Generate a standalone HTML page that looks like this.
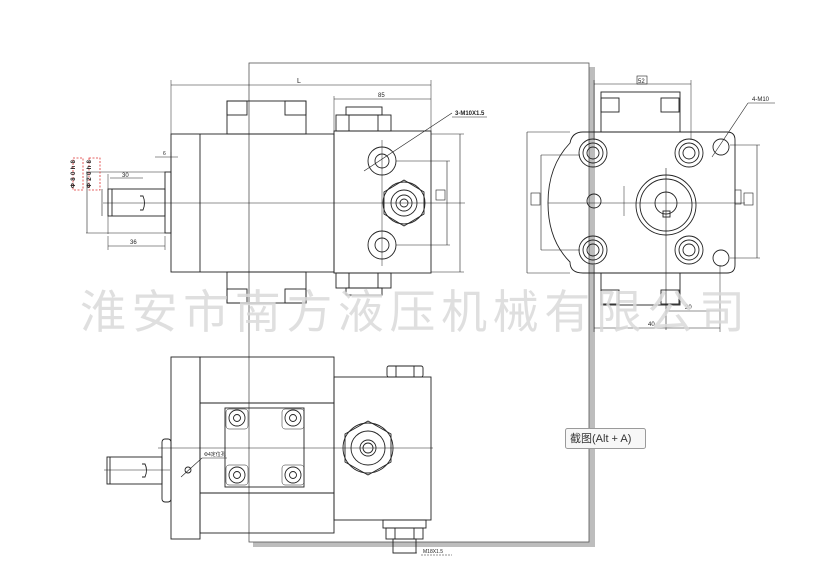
<!DOCTYPE html>
<html><head><meta charset="utf-8"><style>
html,body{margin:0;padding:0;background:#fff;width:829px;height:577px;overflow:hidden}
svg{display:block}
</style></head><body>
<svg width="829" height="577" viewBox="0 0 829 577" xmlns="http://www.w3.org/2000/svg" font-family="Liberation Sans, sans-serif">
<!-- screenshot window overlay -->
<rect x="589" y="67" width="6" height="480" fill="#bdbdbd"/>
<rect x="253" y="542" width="342" height="5" fill="#bdbdbd"/>
<rect x="249" y="63" width="340" height="479" fill="none" stroke="#555" stroke-width="0.8"/>

<g fill="none" stroke="#222" stroke-width="0.9">
<!-- ===== TOP VIEW ===== -->
<rect x="171" y="134" width="163" height="138"/>
<line x1="200" y1="134" x2="200" y2="272"/>
<rect x="227" y="101" width="79" height="33"/>
<rect x="227" y="101" width="20" height="14"/>
<rect x="285" y="101" width="21" height="14"/>
<rect x="227" y="272" width="79" height="31"/>
<rect x="227" y="289" width="20" height="14"/>
<rect x="285" y="289" width="21" height="14"/>
<rect x="334" y="131" width="97" height="142"/>
<rect x="336" y="115" width="55" height="16"/>
<rect x="346" y="107" width="36" height="8"/>
<line x1="349" y1="115" x2="349" y2="131"/><line x1="378" y1="115" x2="378" y2="131"/>
<rect x="336" y="273" width="55" height="15"/>
<rect x="346" y="288" width="36" height="7"/>
<line x1="349" y1="273" x2="349" y2="288"/><line x1="378" y1="273" x2="378" y2="288"/>
<circle cx="382" cy="161" r="14"/><circle cx="382" cy="161" r="7"/>
<circle cx="382" cy="245" r="14"/><circle cx="382" cy="245" r="7"/>
<polygon points="404,180 424,192 424,214 404,226 384,214 384,192"/>
<circle cx="404" cy="203" r="21"/><circle cx="404" cy="203" r="13"/><circle cx="404" cy="203" r="8"/><circle cx="404" cy="203" r="4"/>
<line x1="382" y1="140" x2="382" y2="266" stroke-width="0.5"/>
<line x1="103" y1="203" x2="465" y2="203" stroke-width="0.6"/>
<!-- shaft -->
<rect x="108" y="189" width="57" height="27"/>
<rect x="165" y="172" width="6" height="61"/>
<line x1="112" y1="189" x2="112" y2="216"/>
<path d="M140 196 L143 196 Q146 203 143 210 L140 210"/>
<!-- dims top view -->
<line x1="171" y1="85" x2="431" y2="85" stroke-width="0.6"/>
<line x1="171" y1="80" x2="171" y2="134" stroke-width="0.5"/>
<line x1="431" y1="80" x2="431" y2="131" stroke-width="0.5"/>
<line x1="334" y1="99" x2="431" y2="99" stroke-width="0.6"/>
<line x1="334" y1="96" x2="334" y2="131" stroke-width="0.5"/>
<line x1="431" y1="134" x2="464" y2="134" stroke-width="0.5"/>
<line x1="431" y1="272" x2="464" y2="272" stroke-width="0.5"/>
<line x1="460" y1="134" x2="460" y2="272" stroke-width="0.6"/>
<line x1="396" y1="161" x2="450" y2="161" stroke-width="0.5"/>
<line x1="396" y1="245" x2="450" y2="245" stroke-width="0.5"/>
<line x1="447" y1="161" x2="447" y2="245" stroke-width="0.6"/>
<rect x="436" y="190" width="9" height="10" stroke-width="0.6"/>
<line x1="364" y1="171" x2="452" y2="113" stroke-width="0.6"/>
<line x1="452" y1="117" x2="487" y2="117" stroke-width="0.6"/>
<line x1="108" y1="174" x2="108" y2="234" stroke-width="0.5"/>
<line x1="86" y1="233" x2="165" y2="233" stroke-width="0.5"/>
<line x1="86" y1="172" x2="165" y2="172" stroke-width="0.5"/>
<line x1="87" y1="172" x2="87" y2="233" stroke-width="0.6"/>
<line x1="102" y1="189" x2="102" y2="216" stroke-width="0.6"/>
<line x1="108" y1="246" x2="165" y2="246" stroke-width="0.6"/>
<line x1="108" y1="236" x2="108" y2="250" stroke-width="0.5"/>
<line x1="165" y1="236" x2="165" y2="250" stroke-width="0.5"/>
<line x1="110" y1="178" x2="143" y2="178" stroke-width="0.6"/>
<line x1="155" y1="157" x2="178" y2="157" stroke-width="0.6"/>
<line x1="171" y1="152" x2="171" y2="172" stroke-width="0.5"/>

<!-- ===== SIDE VIEW ===== -->
<rect x="601" y="92" width="79" height="40"/>
<rect x="601" y="98" width="18" height="14"/><rect x="661" y="98" width="18" height="14"/>
<rect x="601" y="273" width="79" height="32"/>
<rect x="601" y="290" width="18" height="14"/><rect x="661" y="290" width="18" height="14"/>
<path d="M583 132 L727 132 Q735 132 735 140 L735 265 Q735 273 727 273 L583 273 Q570 273 570 262 Q548 240 548 203 Q548 166 570 143 Q572 132 583 132 Z"/>
<circle cx="593" cy="153" r="14"/><circle cx="593" cy="153" r="10"/><circle cx="593" cy="153" r="6"/>
<circle cx="689" cy="153" r="14"/><circle cx="689" cy="153" r="10"/><circle cx="689" cy="153" r="6"/>
<circle cx="593" cy="250" r="14"/><circle cx="593" cy="250" r="10"/><circle cx="593" cy="250" r="6"/>
<circle cx="689" cy="250" r="14"/><circle cx="689" cy="250" r="10"/><circle cx="689" cy="250" r="6"/>
<circle cx="721" cy="147" r="8"/><circle cx="721" cy="258" r="8"/>
<circle cx="594" cy="201" r="7"/>
<circle cx="666" cy="205" r="30"/><circle cx="666" cy="205" r="26"/><circle cx="666" cy="203" r="11"/>
<rect x="663" y="211" width="7" height="6"/>
<line x1="548" y1="203" x2="745" y2="203" stroke-width="0.6"/>
<line x1="666" y1="168" x2="666" y2="330" stroke-width="0.6"/>
<line x1="527" y1="132" x2="570" y2="132" stroke-width="0.5"/>
<line x1="527" y1="273" x2="570" y2="273" stroke-width="0.5"/>
<line x1="527" y1="132" x2="527" y2="273" stroke-width="0.6"/>
<line x1="541" y1="155" x2="580" y2="155" stroke-width="0.5"/>
<line x1="541" y1="250" x2="580" y2="250" stroke-width="0.5"/>
<line x1="541" y1="155" x2="541" y2="250" stroke-width="0.6"/>
<rect x="531" y="193" width="9" height="12" stroke-width="0.6"/>
<rect x="744" y="193" width="9" height="12" stroke-width="0.6"/>
<rect x="735" y="190" width="6" height="14" stroke-width="0.6"/>
<line x1="730" y1="145" x2="760" y2="145" stroke-width="0.5"/>
<line x1="730" y1="258" x2="760" y2="258" stroke-width="0.5"/>
<line x1="757" y1="145" x2="757" y2="258" stroke-width="0.6"/>
<line x1="624" y1="186" x2="624" y2="216" stroke-width="0.5"/>
<line x1="594" y1="84" x2="691" y2="84" stroke-width="0.6"/>
<line x1="594" y1="80" x2="594" y2="140" stroke-width="0.5"/>
<line x1="691" y1="80" x2="691" y2="140" stroke-width="0.5"/>
<rect x="637" y="76" width="10" height="8" stroke-width="0.6"/>
<line x1="712" y1="157" x2="748" y2="103" stroke-width="0.6"/>
<line x1="748" y1="103" x2="775" y2="103" stroke-width="0.6"/>
<line x1="666" y1="311" x2="720" y2="311" stroke-width="0.6"/>
<line x1="720" y1="265" x2="720" y2="332" stroke-width="0.5"/>
<line x1="594" y1="328" x2="720" y2="328" stroke-width="0.6"/>
<line x1="594" y1="265" x2="594" y2="332" stroke-width="0.5"/>

<!-- ===== BOTTOM VIEW ===== -->
<rect x="171" y="357" width="29" height="182"/>
<rect x="200" y="357" width="134" height="176"/>
<line x1="200" y1="403" x2="334" y2="403"/><line x1="200" y1="493" x2="334" y2="493"/>
<rect x="225" y="408" width="79" height="79"/>
<circle cx="237" cy="418" r="8"/><circle cx="237" cy="418" r="3.5"/>
<circle cx="293" cy="418" r="8"/><circle cx="293" cy="418" r="3.5"/>
<circle cx="237" cy="475" r="8"/><circle cx="237" cy="475" r="3.5"/>
<circle cx="293" cy="475" r="8"/><circle cx="293" cy="475" r="3.5"/>
<rect x="226" y="409" width="22" height="20" rx="3" stroke-width="0.5"/>
<rect x="282" y="409" width="22" height="20" rx="3" stroke-width="0.5"/>
<rect x="226" y="465" width="22" height="20" rx="3" stroke-width="0.5"/>
<rect x="282" y="465" width="22" height="20" rx="3" stroke-width="0.5"/>
<rect x="334" y="377" width="97" height="143"/>
<rect x="387" y="366" width="36" height="11" rx="2"/>
<line x1="396" y1="366" x2="396" y2="377"/><line x1="414" y1="366" x2="414" y2="377"/>
<polygon points="368,421 391,434 391,462 368,475 345,462 345,434"/>
<circle cx="368" cy="448" r="25"/><circle cx="368" cy="448" r="17"/><circle cx="368" cy="448" r="8"/><circle cx="368" cy="448" r="5"/>
<rect x="383" y="520" width="43" height="8"/>
<rect x="386" y="528" width="37" height="11"/>
<line x1="395" y1="528" x2="395" y2="539"/><line x1="414" y1="528" x2="414" y2="539"/>
<rect x="393" y="539" width="23" height="14"/>
<line x1="393" y1="553" x2="417" y2="553" stroke-width="0.5"/>
<line x1="421" y1="555" x2="452" y2="555" stroke-width="0.5" stroke-dasharray="2 1"/>
<rect x="107" y="457" width="55" height="27"/>
<rect x="162" y="439" width="9" height="63" rx="3"/>
<line x1="110" y1="457" x2="110" y2="484"/>
<path d="M142 464 L145 464 Q148 470 145 477 L142 477"/>
<line x1="158" y1="448" x2="433" y2="448" stroke-width="0.6"/>
<line x1="104" y1="470" x2="170" y2="470" stroke-width="0.6"/>
<line x1="181" y1="477" x2="202" y2="458" stroke-width="0.6"/>
<circle cx="188" cy="470" r="3"/>
<line x1="202" y1="458" x2="227" y2="458" stroke-width="0.5"/>
</g>

<!-- red dashed boxes -->
<rect x="73" y="158" width="10" height="32" fill="none" stroke="#d33" stroke-width="0.8" stroke-dasharray="2 1.5"/>
<rect x="89" y="158" width="11" height="32" fill="none" stroke="#d33" stroke-width="0.8" stroke-dasharray="2 1.5"/>
<g fill="#222" font-size="5">
<text x="75" y="188" transform="rotate(-90 75 188)" font-size="6" font-weight="bold" textLength="28">Φ80h8</text>
<text x="91" y="188" transform="rotate(-90 91 188)" font-size="6" font-weight="bold" textLength="28">Φ20h8</text>
<text x="297" y="83" font-size="7">L</text>
<text x="378" y="97" font-size="6">85</text>
<text x="455" y="115" font-size="6" font-weight="bold">3-M10X1.5</text>
<text x="122" y="177" font-size="6">30</text>
<text x="130" y="244" font-size="6">36</text>
<text x="163" y="155" font-size="5">6</text>
<text x="638" y="83" font-size="6">52</text>
<text x="752" y="101" font-size="6">4-M10</text>
<text x="685" y="309" font-size="6">20</text>
<text x="648" y="326" font-size="6">40</text>
<text x="204" y="456" font-size="5">Φ4定位孔</text>
<text x="423" y="553" font-size="5">M18X1.5</text>
</g>

<!-- watermark -->
<text x="80" y="328" font-family="Liberation Sans, Noto Sans CJK SC, sans-serif" font-size="46" fill="#d9d9d9" fill-opacity="0.85" textLength="665" lengthAdjust="spacing">淮安市南方液压机械有限公司</text>

<!-- tooltip -->
<rect x="565.5" y="428.5" width="80" height="20" rx="2" fill="#f7f7f7" stroke="#9a9a9a"/>
<text x="570" y="442" font-family="Liberation Sans, Noto Sans CJK SC, sans-serif" font-size="11" fill="#333">截图(Alt + A)</text>
</svg>
</body></html>
